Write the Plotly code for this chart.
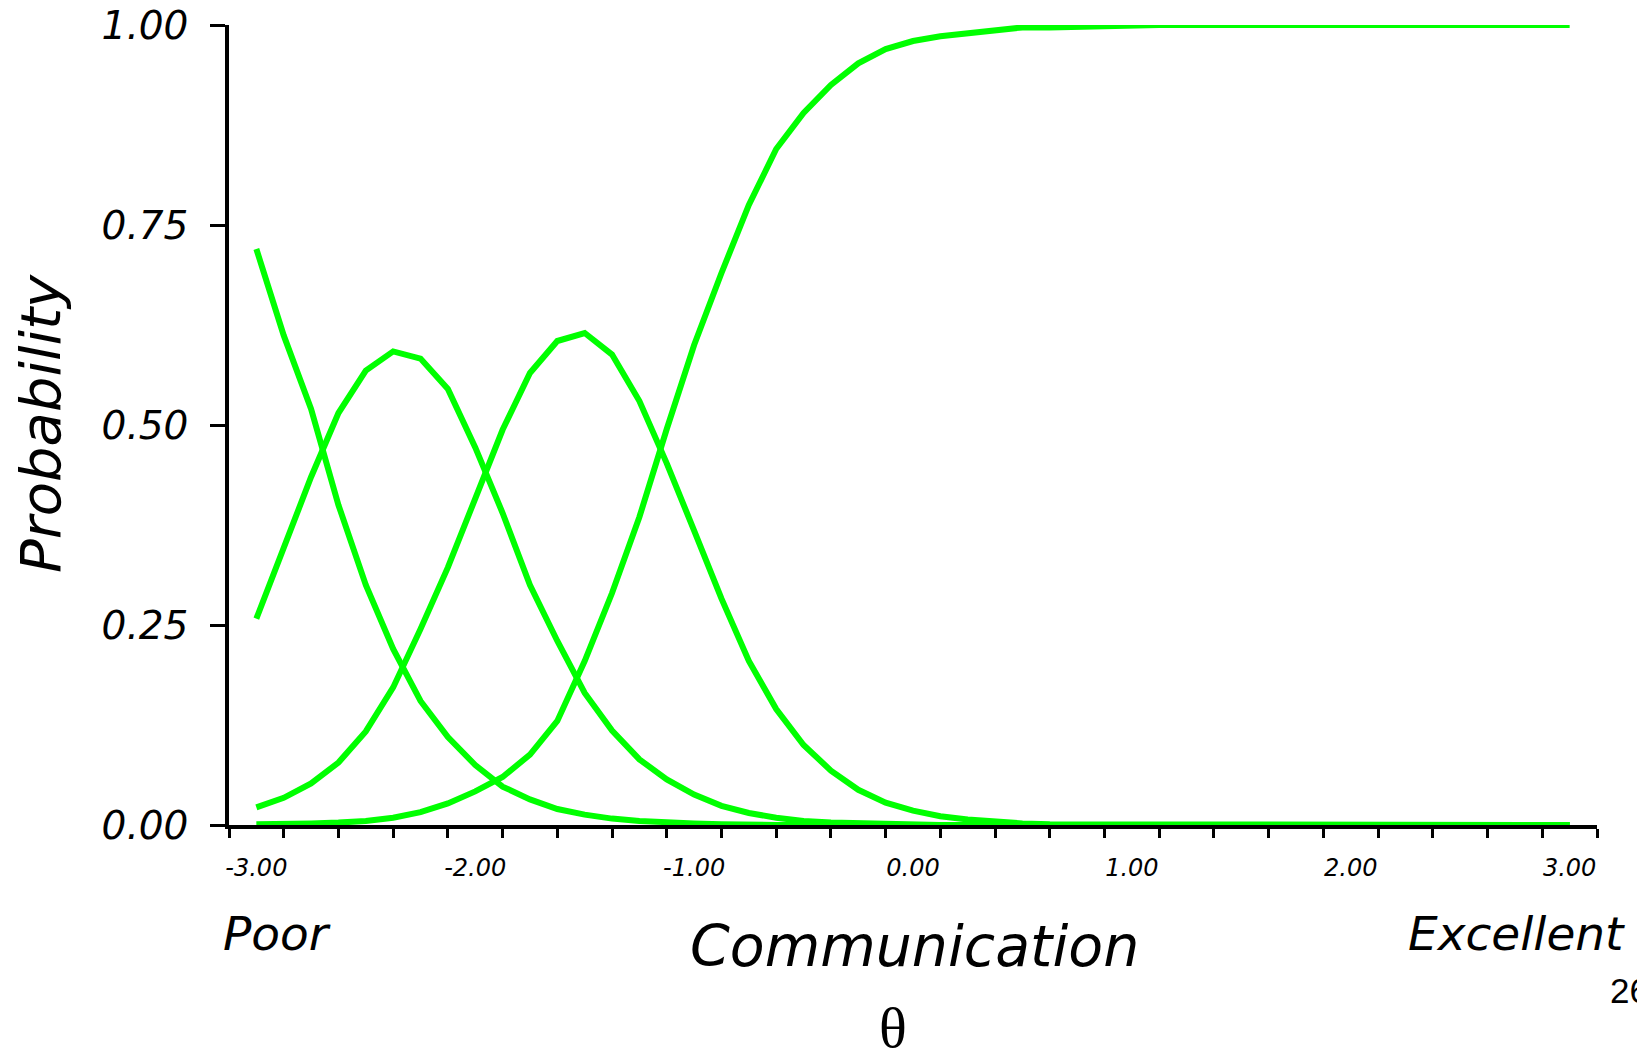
import plotly.graph_objects as go

# ---- data ----
theta = [-3.0, -2.875, -2.75, -2.625, -2.5, -2.375, -2.25, -2.125, -2.0,
         -1.875, -1.75, -1.625, -1.5, -1.375, -1.25, -1.125, -1.0,
         -0.875, -0.75, -0.625, -0.5, -0.375, -0.25, -0.125, 0.0,
         0.125, 0.25, 0.375, 0.5, 0.625, 0.75, 0.875, 1.0,
         1.125, 1.25, 1.375, 1.5, 1.625, 1.75, 1.875, 2.0,
         2.125, 2.25, 2.375, 2.5, 2.625, 2.75, 2.875, 3.0]

cat1 = [0.72, 0.612, 0.52, 0.40, 0.30, 0.22, 0.155, 0.11, 0.075,
        0.048, 0.032, 0.020, 0.013, 0.008, 0.005, 0.003, 0.002,
        0.001, 0.0, 0.0, 0.0, 0.0, 0.0, 0.0, 0.0,
        0.0, 0.0, 0.0, 0.0, 0.0, 0.0, 0.0, 0.0,
        0.0, 0.0, 0.0, 0.0, 0.0, 0.0, 0.0, 0.0,
        0.0, 0.0, 0.0, 0.0, 0.0, 0.0, 0.0, 0.0]

cat2 = [0.258, 0.345, 0.435, 0.515, 0.568, 0.592, 0.583, 0.545, 0.472,
        0.390, 0.300, 0.230, 0.165, 0.118, 0.082, 0.057, 0.038,
        0.024, 0.015, 0.009, 0.005, 0.003, 0.002, 0.001, 0.0,
        0.0, 0.0, 0.0, 0.0, 0.0, 0.0, 0.0, 0.0,
        0.0, 0.0, 0.0, 0.0, 0.0, 0.0, 0.0, 0.0,
        0.0, 0.0, 0.0, 0.0, 0.0, 0.0, 0.0, 0.0]

cat3 = [0.022, 0.034, 0.052, 0.078, 0.117, 0.172, 0.245, 0.322, 0.408,
        0.494, 0.565, 0.605, 0.615, 0.588, 0.530, 0.452, 0.368,
        0.283, 0.205, 0.145, 0.100, 0.068, 0.044, 0.028, 0.018,
        0.011, 0.007, 0.004, 0.002, 0.001, 0.001, 0.0, 0.0,
        0.0, 0.0, 0.0, 0.0, 0.0, 0.0, 0.0, 0.0,
        0.0, 0.0, 0.0, 0.0, 0.0, 0.0, 0.0, 0.0]

cat4 = [0.001, 0.001, 0.002, 0.003, 0.005, 0.009, 0.016, 0.027, 0.042,
        0.060, 0.088, 0.130, 0.205, 0.290, 0.385, 0.495, 0.600,
        0.690, 0.775, 0.845, 0.890, 0.925, 0.952, 0.970, 0.980,
        0.986, 0.990, 0.994, 0.997, 0.997, 0.998, 0.999, 1.0,
        1.0, 1.0, 1.0, 1.0, 1.0, 1.0, 1.0, 1.0,
        1.0, 1.0, 1.0, 1.0, 1.0, 1.0, 1.0, 1.0]

x_label_vals = [-3, -2, -1, 0, 1, 2, 3]
x_label_text = ["-3.00", "-2.00", "-1.00", "0.00", "1.00", "2.00", "3.00"]
y_tick_vals = [0.0, 0.25, 0.5, 0.75, 1.0]
y_tick_text = ["0.00", "0.25", "0.50", "0.75", "1.00"]

# ---- figure ----
GREEN = "#00ff00"
SANS = "DejaVu Sans"
OFF = 8  # page body margin of the html page

fig = go.Figure()
for series in (cat1, cat2, cat3, cat4):
    fig.add_trace(go.Scatter(x=theta, y=series, mode="lines",
                             line=dict(color=GREEN, width=6),
                             cliponaxis=False, showlegend=False,
                             hoverinfo="skip"))

minor_ticks = [-3.125 + 0.25 * i for i in range(26)]

fig.update_layout(
    width=1645 - OFF, height=1052 - OFF,
    margin=dict(l=229 - OFF, r=48, t=25 - OFF, b=227, pad=0),
    paper_bgcolor="white", plot_bgcolor="white",
    showlegend=False,
    xaxis=dict(
        range=[-3.125, 3.125], showgrid=False, zeroline=False, automargin=False,
        showline=True, linecolor="black", linewidth=3.5,
        tickmode="array", tickvals=x_label_vals, ticktext=x_label_text,
        ticks="outside", ticklen=0, tickwidth=0, tickcolor="rgba(0,0,0,0)",
        tickfont=dict(family=SANS, size=24, color="black", style="italic"),
        ticklabelstandoff=18, ticklabeloverflow="allow",
        minor=dict(tickmode="array", tickvals=minor_ticks, ticks="outside",
                   ticklen=9, tickwidth=3, tickcolor="black", showgrid=False),
        layer="below traces", fixedrange=True,
    ),
    yaxis=dict(
        range=[0, 1], showgrid=False, zeroline=False, automargin=False,
        showline=True, linecolor="black", linewidth=3.5,
        tickmode="array", tickvals=y_tick_vals, ticktext=y_tick_text,
        ticks="outside", ticklen=15, tickwidth=3, tickcolor="black",
        tickfont=dict(family=SANS, size=39, color="black", style="italic"),
        ticklabelstandoff=14, ticklabeloverflow="allow",
        layer="below traces", fixedrange=True,
    ),
)

def px_x(px):
    return (px - 229) / 1368.0

def px_y(py):
    return (825 - py) / 800.0

ann = [
    dict(text="Probability", x=px_x(40), y=px_y(423), textangle=-90,
         font=dict(family=SANS, size=56, style="italic")),
    dict(text="Poor", x=px_x(221), y=px_y(933), xanchor="left",
         font=dict(family=SANS, size=47, style="italic")),
    dict(text="Communication", x=px_x(914), y=px_y(946),
         font=dict(family=SANS, size=57, style="italic")),
    dict(text="Excellent", x=px_x(1516), y=px_y(933),
         font=dict(family=SANS, size=47, style="italic")),
    dict(text="θ", x=px_x(893), y=px_y(1028),
         font=dict(family="Liberation Serif", size=58)),
    dict(text="26", x=px_x(1608), y=px_y(990), xanchor="left",
         font=dict(family="Liberation Sans", size=35)),
]
for a in ann:
    base = dict(xref="paper", yref="paper", showarrow=False,
                xanchor="center", yanchor="middle")
    base.update(a)
    base["font"] = dict(color="black", **a["font"])
    fig.add_annotation(**base)

fig.write_html("out.html")
